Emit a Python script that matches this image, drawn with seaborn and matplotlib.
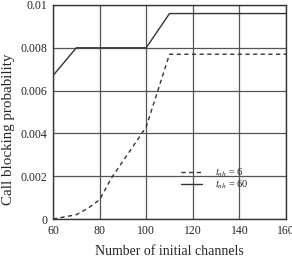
import matplotlib
matplotlib.use("Agg")
import matplotlib.pyplot as plt
import seaborn as sns
import pandas as pd

channels_6 = [60, 65, 70, 75, 80, 85, 90, 95, 100, 105, 110, 160]
block_6 = [0.0, 0.0001, 0.0002, 0.0005, 0.0009, 0.0019, 0.0027, 0.0035, 0.0043, 0.0060, 0.0077, 0.0077]
channels_60 = [60, 70, 100, 110, 160]
block_60 = [0.0067, 0.0080, 0.0080, 0.0096, 0.0096]
series_labels = [r"$t_{nh}$ = 6", r"$t_{nh}$ = 60"]
x_ticks = [60, 80, 100, 120, 140, 160]
y_ticks = [0, 0.002, 0.004, 0.006, 0.008, 0.01]
y_ticklabels = ["0", "0.002", "0.004", "0.006", "0.008", "0.01"]

sns.set_style("white")
plt.rcParams["font.family"] = ["Liberation Serif", "DejaVu Serif"]
plt.rcParams["mathtext.fontset"] = "stix"

df = pd.concat([
    pd.DataFrame({"x": channels_6, "y": block_6, "series": series_labels[0]}),
    pd.DataFrame({"x": channels_60, "y": block_60, "series": series_labels[1]}),
], ignore_index=True)

fig = plt.figure(figsize=(2.92, 2.57), dpi=100)
ax = fig.add_axes([53 / 292, 38 / 257, 233 / 292, 214 / 257])

sns.lineplot(data=df, x="x", y="y", style="series", ax=ax, color="#333333",
             linewidth=1.0, dashes={series_labels[0]: (3, 2.5), series_labels[1]: ""},
             legend=True)

ax.set_xlim(60, 160)
ax.set_ylim(0, 0.01)
ax.set_xticks(x_ticks)
ax.set_yticks(y_ticks)
ax.set_yticklabels(y_ticklabels)
ax.tick_params(labelsize=8.5, length=0, pad=4)
ax.grid(True, color="#555555", linewidth=0.9)
ax.set_axisbelow(True)
for s in ax.spines.values():
    s.set_color("#333333")
    s.set_linewidth(1.0)

ax.set_xlabel("Number of initial channels", fontsize=10, labelpad=6)
ax.set_ylabel("Call blocking probability", fontsize=10.8)
ax.yaxis.set_label_coords(-0.162, 0.42)

leg = ax.legend(loc="upper left", bbox_to_anchor=(0.51, 0.29), frameon=False,
                fontsize=7.5, handlelength=2.0, handletextpad=1.2, labelspacing=0.0)

fig.savefig("out.png", dpi=100)
